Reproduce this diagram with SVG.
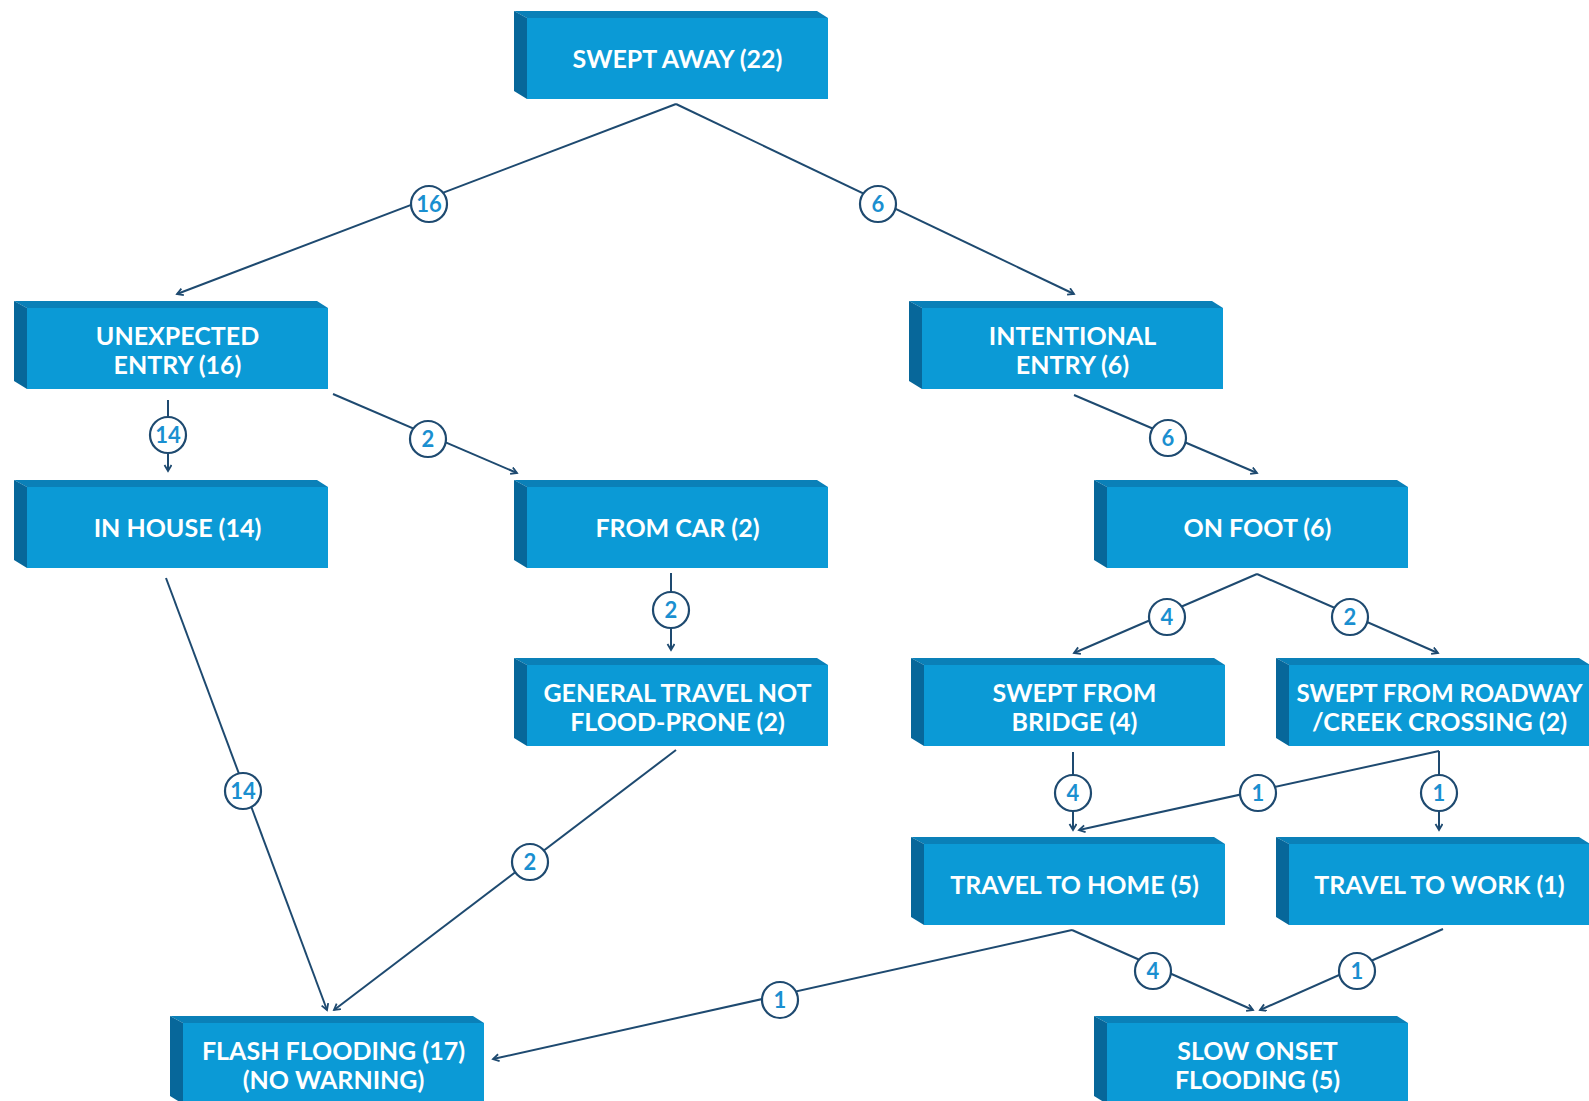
<svg xmlns="http://www.w3.org/2000/svg" xmlns:xlink="http://www.w3.org/1999/xlink" width="1589" height="1101" viewBox="0 0 1589 1101">
  <style>
    .top { fill: #0a80b8; }
    .side { fill: #07679a; }
    .face { fill: #0b9ad6; }
    .label { fill: #ffffff; font-family: Lato, "Open Sans", "Liberation Sans", sans-serif; font-weight: 700; font-size: 25px; text-anchor: middle; }
    .label.tight { font-size: 24px; }
    .wire { fill: none; stroke: #1e4a70; stroke-width: 2; }
    .badge circle { fill: #ffffff; stroke: #1e4a70; stroke-width: 2.2; }
    .badge text { fill: #1a8fd0; font-family: Lato, "Open Sans", "Liberation Sans", sans-serif; font-weight: 700; font-size: 22px; text-anchor: middle; }
  </style>
  <defs>
    <!-- extruded box, front face at origin 301 x 81 -->
    <g id="box">
      <polygon class="top" points="-13,-7 290,-7 301,0 0,0"/>
      <polygon class="side" points="-13,-7 0,0 0,81 -13,73"/>
      <rect class="face" x="0" y="0" width="301" height="81"/>
    </g>
    <marker id="arrow" markerUnits="userSpaceOnUse" markerWidth="12" markerHeight="12" refX="7" refY="4" orient="auto">
      <path d="M1,0.5 L7,4 L1,7.5" fill="none" stroke="#1e4a70" stroke-width="1.8"/>
    </marker>
  </defs>

  <rect width="1589" height="1101" fill="#ffffff"/>

  <!-- connectors -->
  <g id="connectors">
    <path class="wire" d="M676,104 L177,294" marker-end="url(#arrow)"/>
    <path class="wire" d="M676,104 L1074,294" marker-end="url(#arrow)"/>
    <path class="wire" d="M168,400 L168,471" marker-end="url(#arrow)"/>
    <path class="wire" d="M333,394 L517,473" marker-end="url(#arrow)"/>
    <path class="wire" d="M1074,395 L1257,473" marker-end="url(#arrow)"/>
    <path class="wire" d="M166,578 L327,1010" marker-end="url(#arrow)"/>
    <path class="wire" d="M671,573 L671,650" marker-end="url(#arrow)"/>
    <path class="wire" d="M676,750 L334,1010" marker-end="url(#arrow)"/>
    <path class="wire" d="M1257,574 L1074,653" marker-end="url(#arrow)"/>
    <path class="wire" d="M1257,574 L1438,653" marker-end="url(#arrow)"/>
    <path class="wire" d="M1073,752 L1073,830" marker-end="url(#arrow)"/>
    <path class="wire" d="M1439,751 L1079,830" marker-end="url(#arrow)"/>
    <path class="wire" d="M1439,751 L1439,830" marker-end="url(#arrow)"/>
    <path class="wire" d="M1072,930 L493,1059" marker-end="url(#arrow)"/>
    <path class="wire" d="M1072,930 L1253,1010" marker-end="url(#arrow)"/>
    <path class="wire" d="M1443,929 L1260,1010" marker-end="url(#arrow)"/>

    <g class="badge"><circle cx="429" cy="204" r="18"/><text x="429" y="212">16</text></g>
    <g class="badge"><circle cx="878" cy="204" r="18"/><text x="878" y="212">6</text></g>
    <g class="badge"><circle cx="168" cy="435" r="18"/><text x="168" y="443">14</text></g>
    <g class="badge"><circle cx="428" cy="439" r="18"/><text x="428" y="447">2</text></g>
    <g class="badge"><circle cx="1168" cy="438" r="18"/><text x="1168" y="446">6</text></g>
    <g class="badge"><circle cx="243" cy="791" r="18"/><text x="243" y="799">14</text></g>
    <g class="badge"><circle cx="671" cy="610" r="18"/><text x="671" y="618">2</text></g>
    <g class="badge"><circle cx="530" cy="862" r="18"/><text x="530" y="870">2</text></g>
    <g class="badge"><circle cx="1167" cy="617" r="18"/><text x="1167" y="625">4</text></g>
    <g class="badge"><circle cx="1350" cy="617" r="18"/><text x="1350" y="625">2</text></g>
    <g class="badge"><circle cx="1073" cy="793" r="18"/><text x="1073" y="801">4</text></g>
    <g class="badge"><circle cx="1258" cy="793" r="18"/><text x="1258" y="801">1</text></g>
    <g class="badge"><circle cx="1439" cy="793" r="18"/><text x="1439" y="801">1</text></g>
    <g class="badge"><circle cx="780" cy="1000" r="18"/><text x="780" y="1008">1</text></g>
    <g class="badge"><circle cx="1153" cy="971" r="18"/><text x="1153" y="979">4</text></g>
    <g class="badge"><circle cx="1357" cy="971" r="18"/><text x="1357" y="979">1</text></g>
  </g>

  <!-- nodes -->
  <g id="swept-away" transform="translate(527,18)">
    <use xlink:href="#box"/>
    <text class="label" x="150.5" y="50">SWEPT AWAY (22)</text>
  </g>
  <g id="unexpected-entry" transform="translate(27,308)">
    <use xlink:href="#box"/>
    <text class="label" x="150.5" y="37">UNEXPECTED</text>
    <text class="label" x="150.5" y="66">ENTRY (16)</text>
  </g>
  <g id="intentional-entry" transform="translate(922,308)">
    <use xlink:href="#box"/>
    <text class="label" x="150.5" y="37">INTENTIONAL</text>
    <text class="label" x="150.5" y="66">ENTRY (6)</text>
  </g>
  <g id="in-house" transform="translate(27,487)">
    <use xlink:href="#box"/>
    <text class="label" x="150.5" y="50">IN HOUSE (14)</text>
  </g>
  <g id="from-car" transform="translate(527,487)">
    <use xlink:href="#box"/>
    <text class="label" x="150.5" y="50">FROM CAR (2)</text>
  </g>
  <g id="on-foot" transform="translate(1107,487)">
    <use xlink:href="#box"/>
    <text class="label" x="150.5" y="50">ON FOOT (6)</text>
  </g>
  <g id="general-travel" transform="translate(527,665)">
    <use xlink:href="#box"/>
    <text class="label" x="150.5" y="37">GENERAL TRAVEL NOT</text>
    <text class="label" x="150.5" y="66">FLOOD-PRONE (2)</text>
  </g>
  <g id="swept-from-bridge" transform="translate(924,665)">
    <use xlink:href="#box"/>
    <text class="label" x="150.5" y="37">SWEPT FROM</text>
    <text class="label" x="150.5" y="66">BRIDGE (4)</text>
  </g>
  <g id="swept-from-roadway" transform="translate(1289,665)">
    <use xlink:href="#box"/>
    <text class="label tight" x="150.5" y="37">SWEPT FROM ROADWAY</text>
    <text class="label" x="150.5" y="66">/CREEK CROSSING (2)</text>
  </g>
  <g id="travel-to-home" transform="translate(924,844)">
    <use xlink:href="#box"/>
    <text class="label" x="150.5" y="50">TRAVEL TO HOME (5)</text>
  </g>
  <g id="travel-to-work" transform="translate(1289,844)">
    <use xlink:href="#box"/>
    <text class="label" x="150.5" y="50">TRAVEL TO WORK (1)</text>
  </g>
  <g id="flash-flooding" transform="translate(183,1023)">
    <use xlink:href="#box"/>
    <text class="label" x="150.5" y="37">FLASH FLOODING (17)</text>
    <text class="label" x="150.5" y="66">(NO WARNING)</text>
  </g>
  <g id="slow-onset" transform="translate(1107,1023)">
    <use xlink:href="#box"/>
    <text class="label" x="150.5" y="37">SLOW ONSET</text>
    <text class="label" x="150.5" y="66">FLOODING (5)</text>
  </g>
</svg>
